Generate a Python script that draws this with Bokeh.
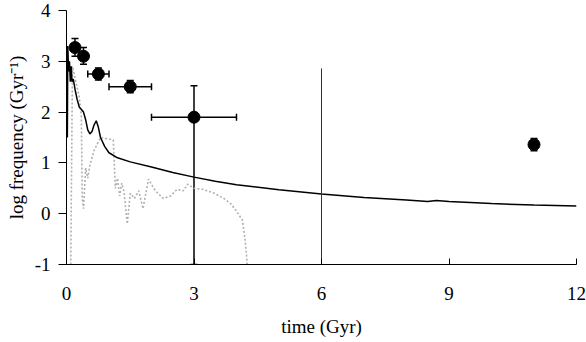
from bokeh.plotting import figure
from bokeh.models import Whisker, ColumnDataSource, TeeHead, FixedTicker, Range1d
from bokeh.embed import file_html
from bokeh.resources import INLINE

# observed points
obs_t = [0.2, 0.4, 0.75, 1.5, 3.0, 11.0]
obs_f = [3.27, 3.1, 2.75, 2.5, 1.9, 1.36]
obs_f_lo = [3.1, 2.94, 2.63, 2.38, -1.0, 1.24]
obs_f_hi = [3.45, 3.27, 2.87, 2.62, 2.52, 1.48]
obs_t_lo = [0.2, 0.4, 0.5, 1.0, 2.0, 11.0]
obs_t_hi = [0.2, 0.4, 1.0, 2.0, 4.0, 11.0]

# extra vertical bar at 6 Gyr
bar_t = [6.0]
bar_lo = [-1.0]
bar_hi = [2.86]

# model curve (solid)
model_t = [0.02, 0.03, 0.05, 0.07, 0.09, 0.11, 0.13, 0.16, 0.2, 0.25, 0.3, 0.35, 0.4,
           0.45, 0.5, 0.55, 0.6, 0.65, 0.7, 0.75, 0.8, 0.9, 1.0, 1.2, 1.5, 2.0, 2.5,
           3.0, 3.5, 4.0, 5.0, 6.0, 7.0, 8.0, 8.5, 8.7, 9.0, 10.0, 11.0, 12.0]
model_f = [1.5, 3.3, 2.8, 3.0, 2.6, 2.9, 2.6, 2.65, 2.45, 2.25, 2.1, 2.05, 2.0,
           1.85, 1.65, 1.57, 1.62, 1.75, 1.83, 1.7, 1.5, 1.32, 1.2, 1.1, 1.02, 0.92, 0.81,
           0.72, 0.64, 0.57, 0.47, 0.39, 0.32, 0.27, 0.24, 0.26, 0.24, 0.2, 0.17, 0.15]

# second model (dotted grey)
model2_t = [0.1, 0.14, 0.22, 0.3, 0.35, 0.37, 0.4, 0.45, 0.5, 0.55, 0.65, 0.8, 1.0,
            1.1, 1.15, 1.2, 1.25, 1.3, 1.35, 1.43, 1.5, 1.6, 1.7, 1.8, 1.93, 2.05,
            2.15, 2.28, 2.45, 2.6, 2.75, 2.85, 3.0, 3.2, 3.46, 3.7, 3.86, 4.0, 4.14,
            4.2, 4.24, 4.25]
model2_f = [-1.0, 2.9, 2.6, 2.3, 1.9, 0.3, 0.1, 0.9, 0.7, 0.95, 1.25, 1.5, 1.47,
            1.45, 0.5, 0.7, 0.35, 0.6, 0.45, -0.2, 0.4, 0.3, 0.45, 0.1, 0.68, 0.5,
            0.4, 0.3, 0.35, 0.48, 0.45, 0.58, 0.5, 0.48, 0.41, 0.3, 0.2, 0.05, -0.13,
            -0.5, -0.86, -1.0]

x_ticks = [0, 3, 6, 9, 12]
y_ticks = [-1, 0, 1, 2, 3, 4]
y_tick_labels = {-1: "-1", 0: "0", 1: "1", 2: "2", 3: "3", 4: "4"}

FONT = "Liberation Serif"

p = figure(width=586, height=342, output_backend="svg", toolbar_location=None,
           x_range=Range1d(0, 12), y_range=Range1d(-1, 4),
           min_border_left=66, min_border_right=10, min_border_top=10, min_border_bottom=78)
p.outline_line_color = None
p.xgrid.grid_line_color = None
p.ygrid.grid_line_color = None
p.background_fill_color = "white"

p.line(model2_t, model2_f, line_color="#b0b0b0", line_width=1.6, line_dash="2 2")
p.line(model_t, model_f, line_color="black", line_width=1.5)

p.segment(x0=bar_t, y0=bar_lo, x1=bar_t, y1=bar_hi, line_color="#333333", line_width=1)

src = ColumnDataSource(dict(t=obs_t, f=obs_f, flo=obs_f_lo, fhi=obs_f_hi,
                            tlo=obs_t_lo, thi=obs_t_hi))
vw = Whisker(source=src, base="t", lower="flo", upper="fhi", dimension="height",
             line_color="black", line_width=1.5,
             upper_head=TeeHead(size=7, line_color="black", line_width=1.5),
             lower_head=TeeHead(size=7, line_color="black", line_width=1.5))
hw = Whisker(source=src, base="f", lower="tlo", upper="thi", dimension="width",
             line_color="black", line_width=1.5,
             upper_head=TeeHead(size=7, line_color="black", line_width=1.5),
             lower_head=TeeHead(size=7, line_color="black", line_width=1.5))
p.add_layout(vw)
p.add_layout(hw)
p.scatter("t", "f", source=src, size=12, color="black")

p.xaxis.ticker = FixedTicker(ticks=x_ticks)
p.yaxis.ticker = FixedTicker(ticks=y_ticks)
p.yaxis.major_label_overrides = y_tick_labels
p.xaxis.minor_tick_line_color = None
p.yaxis.minor_tick_line_color = None

p.xaxis.major_tick_in = 6
p.xaxis.major_tick_out = 0
p.xaxis.major_label_standoff = 22
p.yaxis.major_tick_in = 0
p.yaxis.major_tick_out = 8
p.yaxis.major_label_standoff = 8

for ax in (p.xaxis, p.yaxis):
    ax.axis_line_color = "black"
    ax.major_tick_line_color = "black"
    ax.major_label_text_font = FONT
    ax.major_label_text_font_size = "19px"
    ax.major_label_text_color = "black"
    ax.axis_label_text_font = FONT
    ax.axis_label_text_font_size = "19px"
    ax.axis_label_text_font_style = "normal"
    ax.axis_label_text_color = "black"

p.xaxis.axis_label = "time (Gyr)"
p.yaxis.axis_label = "log frequency (Gyr\u207b\u00b9)"
p.xaxis.axis_label_standoff = 13
p.yaxis.axis_label_standoff = 5

open("out.html", "w").write(file_html(p, INLINE))
